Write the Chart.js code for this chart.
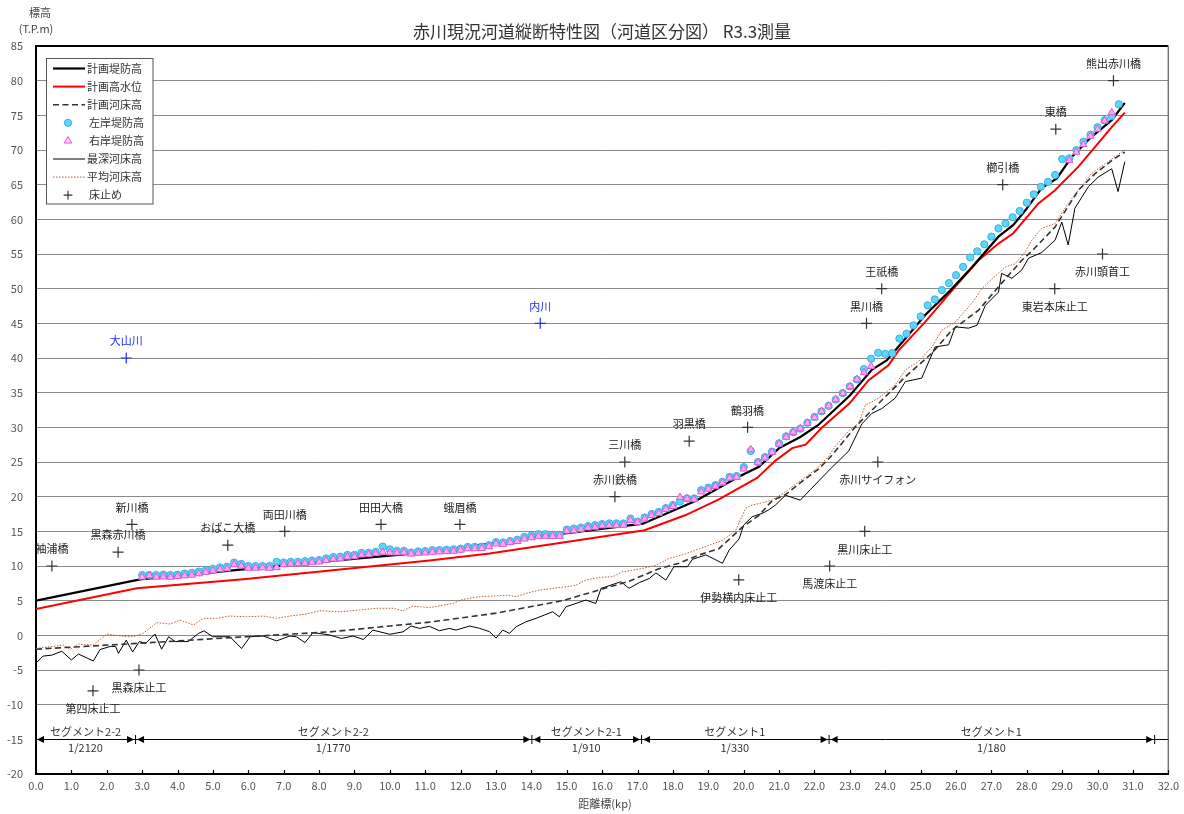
<!DOCTYPE html>
<html><head><meta charset="utf-8">
<script src="https://cdn.jsdelivr.net/npm/chart.js@4.4.0/dist/chart.umd.min.js"></script>
<style>html,body{margin:0;padding:0;background:#fff;}canvas{display:block;}</style>
</head><body>
<canvas id="c" width="1184" height="814"></canvas>
<script>
const FONT = '"Noto Sans CJK JP", "Noto Sans", sans-serif';

// ---- 計画堤防高 ----
const levKm   = [0, 2.94, 5.85, 8.5, 11.1, 14.0, 17.15, 18.65, 19.87, 20.43, 21.0, 21.6, 22.1, 23.0, 23.62, 24.05, 24.57, 25.13, 25.79, 26.45, 27.2, 27.62, 27.96, 28.42, 28.85, 29.27, 29.83, 30.4, 30.77];
const levElev = [5.0, 8.07, 9.5, 10.8, 12.0, 14.1, 16.1, 19.4, 22.9, 24.3, 27.0, 28.6, 30.3, 34.6, 38.3, 39.7, 42.8, 46.2, 49.5, 53.1, 57.5, 59.2, 61.3, 64.5, 65.9, 69.0, 71.9, 74.3, 76.8];

// ---- 計画高水位 ----
const hwlKm   = [0, 2.85, 5.86, 11.12, 12.82, 17.2, 18.36, 19.3, 20.38, 20.9, 21.37, 21.75, 22.2, 23.0, 23.53, 24.1, 24.38, 25.13, 25.98, 26.64, 27.2, 27.62, 28.33, 28.8, 29.46, 30.4, 30.77];
const hwlElev = [3.8, 6.78, 8.1, 10.8, 11.8, 15.15, 17.35, 19.6, 22.7, 25.2, 27.0, 27.5, 29.9, 33.5, 36.8, 39.0, 41.1, 45.2, 50.3, 54.1, 56.5, 58.0, 62.3, 64.2, 67.6, 73.3, 75.4];

// ---- 計画河床高 ----
const bedKm   = [0, 2.9, 5.95, 8.3, 11.12, 13.0, 14.88, 16.76, 17.6, 18.17, 18.74, 19.3, 19.96, 20.43, 20.8, 21.18, 21.65, 22.12, 22.5, 23.16, 24.0, 24.57, 25.32, 25.88, 26.64, 27.29, 27.86, 28.14, 28.8, 29.46, 29.93, 30.49, 30.77];
const bedElev = [-2.0, -1.15, -0.2, 0.5, 1.9, 3.2, 5.0, 7.8, 9.6, 10.4, 11.6, 12.5, 15.6, 17.3, 19.4, 20.3, 22.2, 24.0, 26.0, 30.1, 34.4, 37.3, 40.7, 44.0, 46.9, 50.8, 54.1, 55.4, 58.9, 64.2, 66.6, 68.8, 69.7];

// ---- 左岸・右岸堤防高 ----
const bankKm = [3.0,3.2,3.4,3.6,3.8,4.0,4.2,4.4,4.6,4.8, 5.0,5.2,5.4,5.6,5.8,6.0,6.2,6.4,6.6,6.8,
  7.0,7.2,7.4,7.6,7.8,8.0,8.2,8.4,8.6,8.8, 9.0,9.2,9.4,9.6,9.8,10.0,10.2,10.4,10.6,10.8,
  11.0,11.2,11.4,11.6,11.8,12.0,12.2,12.4,12.6,12.8, 13.0,13.2,13.4,13.6,13.8,14.0,14.2,14.4,14.6,14.8,
  15.0,15.2,15.4,15.6,15.8,16.0,16.2,16.4,16.6,16.8, 17.0,17.2,17.4,17.6,17.8,18.0,18.2,18.4,18.6,18.8,
  19.0,19.2,19.4,19.6,19.8,20.0,20.2,20.4,20.6,20.8, 21.0,21.2,21.4,21.6,21.8,22.0,22.2,22.4,22.6,22.8,
  23.0,23.2,23.4,23.6,23.8,24.0,24.2,24.4,24.6,24.8, 25.0,25.2,25.4,25.6,25.8,26.0,26.2,26.4,26.6,26.8,
  27.0,27.2,27.4,27.6,27.8,28.0,28.2,28.4,28.6,28.8, 29.0,29.2,29.4,29.6,29.8,30.0,30.2,30.4,30.6];
const leftBank = [8.7,8.7,8.7,8.75,8.7,8.75,8.9,9.0,9.2,9.4, 9.6,9.8,9.9,10.5,10.3,10.0,10.0,10.0,10.0,10.6,
  10.5,10.6,10.6,10.7,10.8,10.85,11.1,11.3,11.35,11.6, 11.6,11.9,11.9,12.05,12.8,12.4,12.2,12.2,11.95,12.1,
  12.15,12.3,12.3,12.35,12.4,12.5,12.75,12.75,12.8,13.0, 13.45,13.4,13.6,13.8,14.2,14.4,14.6,14.6,14.5,14.5,
  15.25,15.4,15.55,15.75,15.9,16.05,16.15,16.15,16.15,16.85, 16.4,17.0,17.5,17.8,18.35,18.8,19.3,19.75,19.75,20.95,
  21.3,21.67,22.15,22.85,22.97,24.25,26.6,25.0,25.7,26.5, 27.7,28.7,29.3,29.8,30.66,31.5,32.3,33.1,34.0,34.95,
  35.9,36.9,38.4,39.9,40.75,40.6,40.7,42.8,43.5,44.7, 46.0,47.6,48.45,49.8,50.8,51.95,53.15,54.5,55.4,56.4,
  57.5,58.7,59.4,60.3,61.2,62.4,63.6,64.7,65.4,66.4, 68.7,68.8,70.0,71.2,72.2,73.3,74.3,74.9,76.6];
const rightBank = [8.4,8.6,8.4,8.45,8.4,8.5,8.6,8.7,8.9,9.1, 9.3,9.5,9.6,10.2,10.0,9.7,9.7,9.75,9.7,9.8,
  10.2,10.3,10.35,10.4,10.5,10.6,10.8,11.0,11.05,11.3, 11.35,11.6,11.65,11.8,12.0,11.9,11.9,11.95,11.75,11.85,
  11.9,12.0,12.05,12.1,12.15,12.3,12.5,12.5,12.55,12.8, 13.2,13.15,13.4,13.55,13.9,14.1,14.3,14.3,14.3,14.3,
  15.05,15.1,15.3,15.5,15.6,15.8,15.85,15.85,15.9,16.6, 16.3,16.8,17.3,17.6,18.2,18.6,19.9,19.7,19.6,20.7,
  21.1,21.5,22.0,22.7,22.8,24.0,26.8,24.9,25.6,26.4, 27.6,28.6,29.3,29.8,30.6,31.4,32.3,33.1,34.0,34.9,
  35.9,36.9,37.9,38.8,null,null,null,null,null,null, null,null,null,null,null,null,null,null,null,null,
  null,null,null,null,null,null,null,null,null,null, null,68.5,69.7,70.8,72.0,73.0,74.2,75.4,null];

// ---- 最深河床高 ----
const deepKm = [0.0,0.2,0.45,0.73,1.0,1.2,1.62,1.81,2.1,2.25,2.33,2.55,2.73,2.92,3.1,3.36,3.55,3.75,3.93,4.3,
  4.6,4.75,4.99,5.48,5.81,6.05,6.42,6.8,7.17,7.36,7.6,7.83,8.3,8.63,8.96,9.25,9.52,10.0,10.37,10.6,
  10.84,11.12,11.4,11.68,11.87,12.26,12.54,12.82,13.0,13.19,13.38,13.57,13.85,14.13,14.37,14.6,14.79,14.98,15.26,15.54,
  15.82,15.97,16.25,16.53,16.76,17.05,17.33,17.52,17.8,18.03,18.41,18.55,18.93,19.4,19.59,19.87,20.0,20.24,20.53,20.71,
  20.9,21.18,21.6,21.88,22.45,22.97,23.34,23.62,23.9,24.28,24.57,25.03,25.41,25.79,25.98,26.35,26.59,26.83,27.2,27.29,
  27.58,27.86,28.05,28.42,28.8,28.99,29.17,29.36,29.74,30.02,30.4,30.58,30.77];
const deepElev = [-4.0,-3.0,-2.85,-2.3,-3.55,-2.7,-3.7,-2.05,-1.6,-1.6,-2.6,-0.7,-2.4,-0.9,-1.15,0.2,-2.0,-0.2,-0.9,-0.9,
  0.3,0.65,-0.2,-0.2,-1.9,-0.2,-0.1,-0.8,-0.1,-0.2,-1.05,0.4,0.05,-0.45,-0.1,-0.6,0.75,0.15,0.5,1.35,
  1.0,1.3,0.66,1.0,0.76,1.34,1.0,0.52,-0.4,0.76,0.29,1.24,1.96,2.45,2.93,3.4,2.68,4.12,4.6,5.09,
  4.6,6.78,7.25,7.73,6.78,7.6,8.2,9.0,7.97,9.9,9.9,10.96,11.6,10.4,12.3,13.9,15.9,17.1,17.6,18.1,
  18.8,20.2,19.5,21.0,24.0,26.6,30.5,32.0,32.7,34.2,36.6,37.1,41.6,41.9,44.5,44.3,44.7,47.6,49.5,52.2,
  51.5,52.7,54.4,55.2,57.0,59.6,56.3,61.6,64.7,66.1,67.3,64.0,68.3];

// ---- 平均河床高 ----
const meanKm = [0.0,0.78,0.97,1.2,1.62,2.0,2.2,2.57,2.75,3.03,3.41,3.79,4.07,4.45,4.73,5.1,5.48,5.95,6.42,6.8,
  7.17,7.64,8.02,8.59,9.15,9.62,10.09,10.37,10.65,11.12,11.78,12.07,12.54,12.92,13.3,13.57,13.85,14.23,14.6,14.98,
  15.26,15.54,15.93,16.3,16.57,16.86,17.14,17.52,17.89,18.27,18.65,19.02,19.4,19.77,20.05,20.24,20.43,20.8,21.18,21.6,
  22.05,22.4,22.59,22.97,23.25,23.44,23.81,24.28,24.57,24.94,25.32,25.6,25.98,26.45,26.73,27.0,27.39,27.67,27.96,28.14,
  28.42,28.8,29.17,29.46,29.83,30.21,30.68,30.77];
const meanElev = [-1.9,-1.4,-2.0,-1.25,-1.4,0.19,0.04,-0.2,-0.2,0.29,1.82,1.63,2.2,1.49,2.45,2.45,2.78,2.68,2.78,2.45,
  2.78,3.07,3.55,3.4,3.65,3.9,3.9,3.55,4.22,4.0,4.6,5.2,5.57,5.67,5.8,5.57,6.05,6.53,6.78,7.0,
  7.25,7.97,8.36,8.45,9.17,9.4,9.65,10.1,11.1,11.6,12.3,13.0,13.7,15.1,18.3,18.8,19.0,19.5,20.7,22.3,
  24.0,25.8,27.3,29.5,30.6,33.2,34.2,36.1,38.3,39.5,41.6,44.0,45.2,47.9,50.0,51.3,53.1,53.6,55.3,57.0,
  58.7,59.4,62.3,64.2,66.6,68.0,69.7,70.0];

// ---- 橋梁・床止め ----
const bridgeNames = ['袖浦橋','黒森赤川橋','新川橋','おばこ大橋','両田川橋','田田大橋','蛾眉橋','赤川鉄橋','三川橋','羽黒橋','鶴羽橋','黒川橋','王祇橋','櫛引橋','東橋','熊出赤川橋'];
const bridgeKm    = [0.45, 2.32, 2.71, 5.42, 7.03, 9.75, 11.98, 16.36, 16.64, 18.46, 20.11, 23.47, 23.9, 27.32, 28.82, 30.45];
const bridgeElev  = [10, 12, 16, 13, 15, 16, 16, 20, 25, 28, 30, 45, 50, 65, 73, 80];
const weirNames = ['第四床止工','黒森床止工','伊勢横内床止工','馬渡床止工','黒川床止工','赤川サイフォン','東岩本床止工','赤川頭首工'];
const weirKm    = [1.61, 2.91, 19.86, 22.43, 23.42, 23.79, 28.79, 30.14];
const weirElev  = [-8, -5, 8, 10, 15, 25, 50, 55];
const tribNames = ['大山川','内川'];
const tribKm    = [2.55, 14.25];
const tribElev  = [40, 45];

// ---- セグメント ----
const segBounds = [0, 2.8, 14.0, 17.1, 22.4, 31.6];
const segNames  = ['セグメント2-2','セグメント2-2','セグメント2-1','セグメント1','セグメント1'];
const segSlopes = ['1/2120','1/1770','1/910','1/330','1/180'];
const segLevel  = -15;

const yMin = -20, yMax = 85, yStep = 5, xMin = 0, xMax = 32, xStep = 1;

const pts = (xs, ys) => xs.map((x, i) => ({x, y: ys[i]}));

const crossDs = (data, color) => ({label:'床止め', data, showLine:false, pointStyle:'cross', pointRadius:5.5,
  pointBorderColor:color, pointBackgroundColor:color, pointBorderWidth:1.2, order:1});

const datasets = [
  {label:'計画堤防高', data:pts(levKm, levElev), showLine:true, borderColor:'#000', borderWidth:2.2, pointRadius:0, order:4},
  {label:'計画高水位', data:pts(hwlKm, hwlElev), showLine:true, borderColor:'#ff0000', borderWidth:2, pointRadius:0, order:5},
  {label:'計画河床高', data:pts(bedKm, bedElev), showLine:true, borderColor:'#333', borderWidth:1.6, borderDash:[6,3.5], pointRadius:0, order:6},
  {label:'左岸堤防高', data:pts(bankKm, leftBank), showLine:false, pointStyle:'circle', pointRadius:3.6,
    pointBackgroundColor:'#5ed6f8', pointBorderColor:'#34b0e6', pointBorderWidth:1, order:3},
  {label:'右岸堤防高', data:pts(bankKm, rightBank), showLine:false, pointStyle:'triangle', pointRadius:4.3,
    pointBackgroundColor:'#f7aaf0', pointBorderColor:'#e255d8', pointBorderWidth:1, order:2},
  {label:'最深河床高', data:pts(deepKm, deepElev), showLine:true, borderColor:'#000', borderWidth:1, pointRadius:0, order:7},
  {label:'平均河床高', data:pts(meanKm, meanElev), showLine:true, borderColor:'#b4612f', borderWidth:1, borderDash:[1.5,1.5], pointRadius:0, order:8},
  crossDs(pts(bridgeKm, bridgeElev), '#333'),
  crossDs(pts(weirKm, weirElev), '#333'),
  crossDs(pts(tribKm, tribElev), '#1a2cff'),
];

function drawMarker(ctx, d, x, y) {
  ctx.save();
  ctx.lineWidth = d.pointBorderWidth; ctx.strokeStyle = d.pointBorderColor; ctx.fillStyle = d.pointBackgroundColor;
  const r = d.pointRadius;
  ctx.beginPath();
  if (d.pointStyle === 'circle') { ctx.arc(x, y, r, 0, Math.PI*2); ctx.fill(); ctx.stroke(); }
  else if (d.pointStyle === 'triangle') {
    ctx.moveTo(x, y - r); ctx.lineTo(x + r*0.866, y + r*0.5); ctx.lineTo(x - r*0.866, y + r*0.5); ctx.closePath();
    ctx.fillStyle = '#fbd6f6'; ctx.fill(); ctx.stroke();
  } else { ctx.moveTo(x - r*0.8, y); ctx.lineTo(x + r*0.8, y); ctx.moveTo(x, y - r*0.8); ctx.lineTo(x, y + r*0.8); ctx.stroke(); }
  ctx.restore();
}

function arrowHead(ctx, tipX, y, dir) {
  ctx.beginPath(); ctx.moveTo(tipX, y); ctx.lineTo(tipX - dir*7, y - 3.5); ctx.lineTo(tipX - dir*7, y + 3.5); ctx.closePath(); ctx.fill();
}

const decor = {
  id: 'decor',
  afterDatasetsDraw(chart) {
    const {ctx, chartArea: a, scales: {x, y}} = chart;
    ctx.save();
    // frame
    ctx.strokeStyle = '#000'; ctx.lineWidth = 2;
    ctx.beginPath(); ctx.moveTo(a.left - 1, a.top); ctx.lineTo(a.right, a.top); ctx.stroke();
    ctx.strokeStyle = '#777'; ctx.lineWidth = 1.5;
    ctx.beginPath(); ctx.moveTo(a.right, a.top); ctx.lineTo(a.right, a.bottom); ctx.stroke();
    // inward x ticks
    ctx.strokeStyle = '#000'; ctx.lineWidth = 1.2;
    for (let v = xMin; v <= xMax; v += xStep) {
      const px = Math.round(x.getPixelForValue(v)) + 0.5;
      ctx.beginPath(); ctx.moveTo(px, a.bottom); ctx.lineTo(px, a.bottom - 4); ctx.stroke();
    }
    // segments
    const sy = Math.round(y.getPixelForValue(segLevel)) + 0.5;
    ctx.strokeStyle = '#000'; ctx.fillStyle = '#000'; ctx.lineWidth = 1;
    ctx.beginPath(); ctx.moveTo(a.left, sy); ctx.lineTo(a.right, sy); ctx.stroke();
    segBounds.forEach((b, i) => {
      const px = x.getPixelForValue(b);
      if (i === 0) { arrowHead(ctx, px + 1, sy, -1); return; }
      arrowHead(ctx, px - 1, sy, 1);
      ctx.beginPath(); ctx.moveTo(px + 0.5, sy - 4.5); ctx.lineTo(px + 0.5, sy + 4.5); ctx.stroke();
      if (i < segBounds.length - 1) arrowHead(ctx, px + 2, sy, -1);
    });
    ctx.font = '11px ' + FONT; ctx.fillStyle = '#333'; ctx.textAlign = 'center'; ctx.textBaseline = 'middle';
    segNames.forEach((n, i) => {
      const cx = x.getPixelForValue((segBounds[i] + segBounds[i + 1]) / 2);
      ctx.fillText(n, cx, sy - 8);
      ctx.fillText(segSlopes[i], cx, sy + 8);
    });
    // point labels
    const labelSet = (dsIndex, names, dy, color) => {
      const meta = chart.getDatasetMeta(dsIndex);
      ctx.fillStyle = color;
      meta.data.forEach((el, j) => ctx.fillText(names[j], el.x, el.y + dy));
    };
    ctx.font = '11px ' + FONT;
    labelSet(7, bridgeNames, -17, '#222');
    labelSet(8, weirNames, 18, '#222');
    labelSet(9, tribNames, -17, '#1a2cff');
    ctx.restore();
  },
  afterDraw(chart) {
    const {ctx} = chart;
    ctx.save();
    // titles
    ctx.fillStyle = '#333'; ctx.textAlign = 'center'; ctx.textBaseline = 'middle';
    ctx.font = '17px ' + FONT;
    ctx.fillText('赤川現況河道縦断特性図（河道区分図） R3.3測量', 602, 32);
    ctx.font = '11px ' + FONT; ctx.fillStyle = '#444';
    ctx.fillText('標高', 40, 13);
    ctx.fillText('(T.P.m)', 36, 29);
    ctx.fillText('距離標(kp)', 605, 804);
    // legend
    const bx = 46.5, by = 58.5, bw = 106.5, bh = 145.5;
    ctx.fillStyle = '#fff'; ctx.fillRect(bx, by, bw, bh);
    ctx.strokeStyle = '#555'; ctx.lineWidth = 1; ctx.strokeRect(bx, by, bw, bh);
    chart.data.datasets.slice(0, 8).forEach((d, i) => {
      const yy = 68.5 + i * 18.1;
      if (d.showLine) {
        ctx.save(); ctx.strokeStyle = d.borderColor; ctx.lineWidth = d.borderWidth; ctx.setLineDash(d.borderDash || []);
        ctx.beginPath(); ctx.moveTo(53, yy); ctx.lineTo(85, yy); ctx.stroke(); ctx.restore();
      } else {
        drawMarker(ctx, d, 68, yy);
      }
      ctx.fillStyle = '#333'; ctx.font = '11px ' + FONT; ctx.textAlign = 'left'; ctx.textBaseline = 'middle';
      ctx.fillText(d.label, d.showLine ? 87 : 89, yy);
    });
    ctx.restore();
  }
};

new Chart(document.getElementById('c'), {
  type: 'scatter',
  data: {datasets},
  options: {
    responsive: false, animation: false, devicePixelRatio: 1,
    layout: {padding: {top: 46, right: 14, left: 0, bottom: 0}},
    plugins: {legend: {display: false}, tooltip: {enabled: false}},
    scales: {
      x: {type: 'linear', min: xMin, max: xMax,
        afterFit: s => { s.height = 40; },
        ticks: {stepSize: xStep, autoSkip: false, maxRotation: 0, padding: 5, color: '#555',
          font: {family: FONT, size: 11}, callback: v => Number(v).toFixed(1)},
        grid: {display: false, drawTicks: false},
        border: {display: true, color: '#000', width: 2}},
      y: {type: 'linear', min: yMin, max: yMax,
        afterFit: s => { s.width = 36; },
        ticks: {stepSize: yStep, padding: 13, color: '#555', font: {family: FONT, size: 11}},
        grid: {drawTicks: false, lineWidth: 1,
          color: c => (c.tick && (c.tick.value === yMax || c.tick.value === yMin || c.tick.value === segLevel)) ? 'rgba(0,0,0,0)' : '#8a8a8a'},
        border: {display: true, color: '#000', width: 2}}
    }
  },
  plugins: [decor]
});
</script>
</body></html>
